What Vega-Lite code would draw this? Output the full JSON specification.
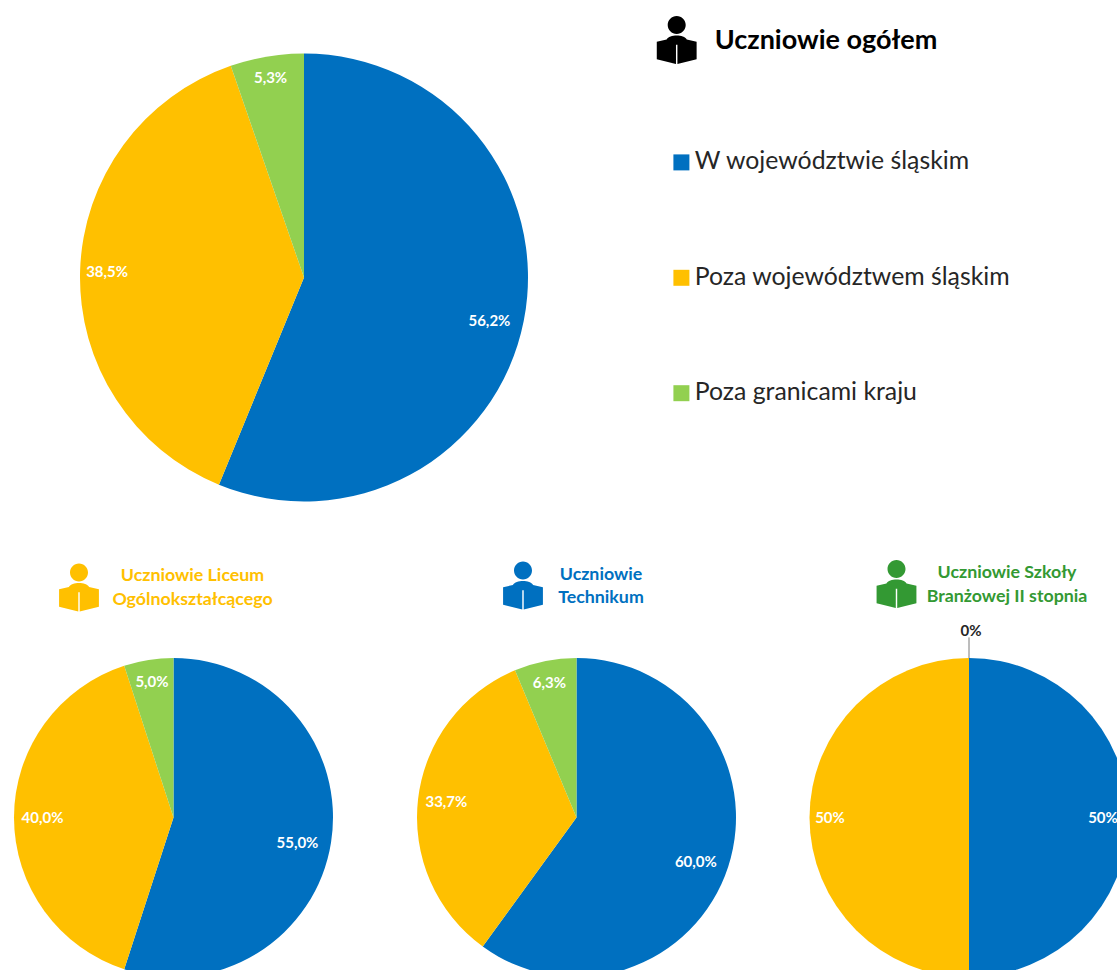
{
"$schema":"https://vega.github.io/schema/vega-lite/v6.json",
"width":1117,"height":970,"padding":0,"autosize":{"type":"none"},
"background":"white",
"config":{"view":{"stroke":null},"font":"Lato"},
"datasets":{
"udzialy":[
{"miejsce":0,"wykres":"Uczniowie ogółem","kolejnosc":1,"kategoria":"W województwie śląskim","udzial":56.2,"etykieta":"56,2%"},
{"miejsce":0,"wykres":"Uczniowie ogółem","kolejnosc":2,"kategoria":"Poza województwem śląskim","udzial":38.5,"etykieta":"38,5%"},
{"miejsce":0,"wykres":"Uczniowie ogółem","kolejnosc":3,"kategoria":"Poza granicami kraju","udzial":5.3,"etykieta":"5,3%"},
{"miejsce":1,"wykres":"Liceum Ogólnokształcące","kolejnosc":1,"kategoria":"W województwie śląskim","udzial":55.0,"etykieta":"55,0%"},
{"miejsce":1,"wykres":"Liceum Ogólnokształcące","kolejnosc":2,"kategoria":"Poza województwem śląskim","udzial":40.0,"etykieta":"40,0%"},
{"miejsce":1,"wykres":"Liceum Ogólnokształcące","kolejnosc":3,"kategoria":"Poza granicami kraju","udzial":5.0,"etykieta":"5,0%"},
{"miejsce":2,"wykres":"Technikum","kolejnosc":1,"kategoria":"W województwie śląskim","udzial":60.0,"etykieta":"60,0%"},
{"miejsce":2,"wykres":"Technikum","kolejnosc":2,"kategoria":"Poza województwem śląskim","udzial":33.7,"etykieta":"33,7%"},
{"miejsce":2,"wykres":"Technikum","kolejnosc":3,"kategoria":"Poza granicami kraju","udzial":6.3,"etykieta":"6,3%"},
{"miejsce":3,"wykres":"Szkoła Branżowa II stopnia","kolejnosc":1,"kategoria":"W województwie śląskim","udzial":50,"etykieta":"50%"},
{"miejsce":3,"wykres":"Szkoła Branżowa II stopnia","kolejnosc":2,"kategoria":"Poza województwem śląskim","udzial":50,"etykieta":"50%"},
{"miejsce":3,"wykres":"Szkoła Branżowa II stopnia","kolejnosc":3,"kategoria":"Poza granicami kraju","udzial":0,"etykieta":"0%"}
],
"naglowki":[
{"miejsce":4,"ikona":8,"typ":"ogółem","tekst":"Uczniowie ogółem"},
{"miejsce":5,"ikona":9,"typ":"Liceum","tekst":"Uczniowie Liceum\nOgólnokształcącego"},
{"miejsce":6,"ikona":10,"typ":"Technikum","tekst":"Uczniowie\nTechnikum"},
{"miejsce":7,"ikona":11,"typ":"Branżowa","tekst":"Uczniowie Szkoły\nBranżowej II stopnia"}
]
},
"encoding":{
"x":{"field":"miejsce","type":"quantitative","axis":null,"scale":{"domain":[0,1,2,3,4,5,6,7,8,9,10,11],"range":[304,173.5,576.5,969,826,192.5,601,1007,676.7,79,523,896.5],"nice":false,"zero":false}},
"y":{"field":"miejsce","type":"quantitative","axis":null,"scale":{"domain":[0,1,2,3,4,5,6,7,8,9,10,11],"range":[277.5,817.5,817.5,817.5,41,576,574.5,573,40,587.5,585.5,584],"nice":false,"zero":false}}
},
"layer":[
{
"data":{"name":"udzialy"},
"transform":[
{"stack":"udzial","groupby":["miejsce"],"sort":[{"field":"kolejnosc","order":"ascending"}],"as":["t0","t1"]},
{"calculate":"(datum.t0+datum.t1)/2","as":"srodek"}
],
"encoding":{
"color":{"field":"kategoria","type":"nominal","scale":{"domain":["W województwie śląskim","Poza województwem śląskim","Poza granicami kraju"],"range":["#0070C0","#FFC000","#92D050"]},
"legend":{"title":null,"orient":"none","legendX":669,"legendY":150,"symbolType":"square","symbolSize":256,"labelFont":"Lato","labelFontSize":24.8,"labelColor":"#262626","labelOffset":1,"rowPadding":89.4,"padding":0,"labelLimit":400}}
},
"layer":[
{"transform":[{"filter":"datum.miejsce==0"}],
"mark":{"type":"arc","outerRadius":224,"clip":true},
"encoding":{"theta":{"field":"t0","type":"quantitative","stack":null,"scale":{"domain":[0,100],"range":[0,6.283185307]}},"theta2":{"field":"t1"}}},
{"transform":[{"filter":"datum.miejsce>0"}],
"mark":{"type":"arc","outerRadius":159.5,"clip":true},
"encoding":{"theta":{"field":"t0","type":"quantitative","stack":null,"scale":{"domain":[0,100],"range":[0,6.283185307]}},"theta2":{"field":"t1"}}},
{"transform":[{"filter":"datum.udzial==0"}],
"mark":{"type":"arc","innerRadius":159.5,"outerRadius":180,"stroke":"#a6a6a6","strokeWidth":1},
"encoding":{"color":{"value":"#a6a6a6"},"theta":{"field":"t0","type":"quantitative","stack":null},"theta2":{"field":"t1"}}},
{"transform":[{"filter":"datum.miejsce==0 && datum.kolejnosc==1"}],
"mark":{"type":"text","radius":189,"dy":7,"fontSize":15,"fontWeight":"bold","align":"center","baseline":"middle"},
"encoding":{"color":{"value":"white"},"theta":{"field":"srodek","type":"quantitative","stack":null},"text":{"field":"etykieta"}}},
{"transform":[{"filter":"datum.miejsce==0 && datum.kolejnosc==2"}],
"mark":{"type":"text","radius":197,"fontSize":15,"fontWeight":"bold","align":"center","baseline":"middle"},
"encoding":{"color":{"value":"white"},"theta":{"field":"srodek","type":"quantitative","stack":null},"text":{"field":"etykieta"}}},
{"transform":[{"filter":"datum.miejsce==0 && datum.kolejnosc==3"}],
"mark":{"type":"text","radius":202,"fontSize":15,"fontWeight":"bold","align":"center","baseline":"middle"},
"encoding":{"color":{"value":"white"},"theta":{"field":"srodek","type":"quantitative","stack":null},"text":{"field":"etykieta"}}},
{"transform":[{"filter":"(datum.miejsce==1 || datum.miejsce==2) && datum.kolejnosc==1"}],
"mark":{"type":"text","radius":125.5,"dy":6,"fontSize":15,"fontWeight":"bold","align":"center","baseline":"middle"},
"encoding":{"color":{"value":"white"},"theta":{"field":"srodek","type":"quantitative","stack":null},"text":{"field":"etykieta"}}},
{"transform":[{"filter":"(datum.miejsce==1 || datum.miejsce==2) && datum.kolejnosc==2"}],
"mark":{"type":"text","radius":131,"fontSize":15,"fontWeight":"bold","align":"center","baseline":"middle"},
"encoding":{"color":{"value":"white"},"theta":{"field":"srodek","type":"quantitative","stack":null},"text":{"field":"etykieta"}}},
{"transform":[{"filter":"(datum.miejsce==1 || datum.miejsce==2) && datum.kolejnosc==3"}],
"mark":{"type":"text","radius":137.5,"fontSize":15,"fontWeight":"bold","align":"center","baseline":"middle"},
"encoding":{"color":{"value":"white"},"theta":{"field":"srodek","type":"quantitative","stack":null},"text":{"field":"etykieta"}}},
{"transform":[{"filter":"datum.miejsce==3 && datum.kolejnosc==1"}],
"mark":{"type":"text","radius":134,"fontSize":15,"fontWeight":"bold","align":"center","baseline":"middle"},
"encoding":{"color":{"value":"white"},"theta":{"field":"srodek","type":"quantitative","stack":null},"text":{"field":"etykieta"}}},
{"transform":[{"filter":"datum.miejsce==3 && datum.kolejnosc==2"}],
"mark":{"type":"text","radius":139,"fontSize":15,"fontWeight":"bold","align":"center","baseline":"middle"},
"encoding":{"color":{"value":"white"},"theta":{"field":"srodek","type":"quantitative","stack":null},"text":{"field":"etykieta"}}},
{"transform":[{"filter":"datum.udzial==0"}],
"mark":{"type":"text","radius":187,"fontSize":15,"fontWeight":"bold","align":"center","baseline":"middle","dx":2},
"encoding":{"color":{"value":"#262626"},"theta":{"field":"srodek","type":"quantitative","stack":null},"text":{"field":"etykieta"}}}
]
},
{
"data":{"name":"naglowki"},
"encoding":{
"color":{"field":"typ","type":"nominal","legend":null,"scale":{"domain":["ogółem","Liceum","Technikum","Branżowa"],"range":["#000000","#FFC000","#0070C0","#339933"]}}
},
"layer":[
{"transform":[{"filter":"datum.typ=='ogółem'"}],
"mark":{"type":"text","fontSize":27,"fontWeight":"bold","align":"center","baseline":"middle"},
"encoding":{"text":{"field":"tekst"}}},
{"transform":[{"filter":"datum.typ!='ogółem'"}],
"mark":{"type":"text","fontSize":17.8,"fontWeight":"bold","align":"center","baseline":"middle","lineBreak":"\n","lineHeight":23.5},
"encoding":{"text":{"field":"tekst"}}},
{"mark":{"type":"point","filled":true,"opacity":1,"size":2304,"strokeWidth":0,"shape":"M0,-1 A0.375,0.375 0 1 1 0,-0.25 A0.375,0.375 0 1 1 0,-1 Z M-0.83,0.07 L-0.42,-0.02 C-0.3,-0.24 0.3,-0.24 0.42,-0.02 L0.83,0.07 L0.83,0.8 L0.03,1 L0.03,0.2 L-0.03,0.2 L-0.03,1 L-0.83,0.8 Z"},
"encoding":{"x":{"field":"ikona","type":"quantitative"},"y":{"field":"ikona","type":"quantitative"}}}
]
}
],
"resolve":{"scale":{"color":"independent"}}
}
